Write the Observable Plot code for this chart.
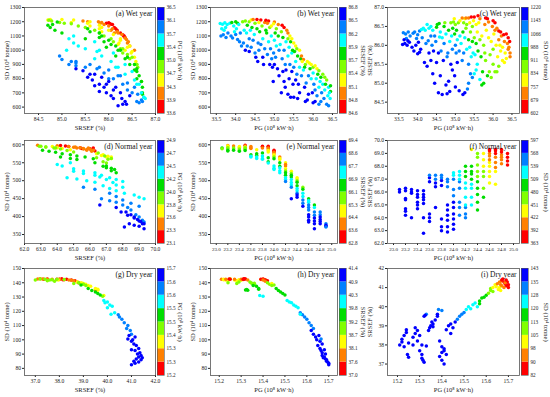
<!DOCTYPE html>
<html><head><meta charset="utf-8">
<script src="https://cdn.jsdelivr.net/npm/d3@7"></script>
<script src="https://cdn.jsdelivr.net/npm/@observablehq/plot@0.6"></script>
<style>
body{margin:0;background:#fff;}
#chart{position:relative;width:550px;height:397px;overflow:hidden;background:#fff;}
#chart svg{position:absolute;overflow:visible;}
</style></head><body><div id="chart"></div>
<script>
// ---- data: [PG (10^8 kWh), SD (10^4 tonne), SRSEF (%)] ----
const wetData = [
[33.60,1188,86.02],[33.66,1183,86.05],[33.72,1192,86.00],[33.78,1180,86.08],
[33.62,1100,86.33],[33.68,1108,86.30],[33.75,1090,86.35],[33.80,1120,86.25],[33.70,1140,86.18],
[33.64,1150,86.15],[33.74,1160,86.12],[33.85,1190,85.95],[33.88,1100,86.32],
[33.90,1195,85.85],[34.00,1200,85.78],[34.05,1190,85.82],[33.95,1170,86.00],[34.02,1150,86.08],[33.92,1085,86.35],[34.05,1075,86.38],[34.10,1060,86.42],[34.00,1110,86.28],
[33.97,1130,86.18],[34.08,1180,85.90],[34.12,1120,86.20],[34.15,1030,86.45],
[34.18,1200,85.55],[34.25,1205,85.45],[34.30,1175,85.80],[34.22,1140,86.05],[34.28,1120,86.12],[34.20,1050,86.40],[34.25,1000,86.55],[34.30,1030,86.45],
[34.35,1200,85.60],[34.35,1080,86.25],[34.38,1140,86.00],[34.35,990,86.50],
[34.40,1212,85.25],[34.45,1215,85.00],[34.50,1190,85.55],[34.42,1160,85.85],[34.48,1110,86.10],[34.45,1070,86.25],[34.40,1020,86.40],[34.50,980,86.48],[34.52,950,86.55],
[34.55,1150,85.80],[34.58,1050,86.22],[34.57,920,86.58],
[34.55,1215,84.75],[34.65,1212,84.70],[34.60,1195,85.20],[34.68,1170,85.60],[34.62,1130,85.85],[34.70,1080,86.05],[34.65,1040,86.20],[34.60,1000,86.35],[34.70,950,86.50],[34.72,900,86.60],
[34.75,1195,84.95],[34.75,1010,86.30],[34.78,1140,85.70],
[34.78,1210,84.72],[34.85,1205,84.78],[34.82,1190,85.05],[34.88,1160,85.50],[34.80,1120,85.80],[34.85,1060,86.10],[34.90,1010,86.25],[34.82,970,86.40],[34.88,900,86.60],[34.95,880,86.62],
[34.92,1170,85.35],[34.92,1100,85.90],[34.93,940,86.45],
[35.00,1198,84.90],[34.98,1185,85.20],[35.05,1150,85.55],[35.02,1120,85.80],[35.00,1070,86.00],[35.05,1030,86.15],[34.98,980,86.30],[35.03,950,86.40],[35.00,900,86.55],[34.97,780,86.70],[35.08,870,86.60],
[35.10,1180,84.80],[35.12,1000,86.25],[35.10,1100,85.85],[35.12,820,86.65],
[35.20,1175,84.70],[35.25,1160,84.75],[35.18,1130,85.60],[35.22,1090,85.80],[35.15,1040,86.05],[35.25,1000,86.20],[35.20,940,86.35],[35.28,900,86.45],[35.22,850,86.60],[35.25,780,86.70],[35.18,700,86.72],
[35.30,1060,85.90],[35.30,860,86.55],[35.28,740,86.72],
[35.32,1140,84.85],[35.35,1120,85.00],[35.40,1100,85.25],[35.35,1080,85.50],[35.42,1060,85.70],[35.38,1020,85.95],[35.45,980,86.10],[35.35,960,86.15],[35.40,900,86.35],[35.45,850,86.50],[35.38,800,86.60],[35.35,690,86.72],[35.42,670,86.75],
[35.47,1000,85.80],[35.48,760,86.65],[35.45,1080,85.15],
[35.50,1050,85.25],[35.55,1030,85.35],[35.58,1010,85.50],[35.52,990,85.75],[35.60,960,85.85],[35.55,920,86.05],[35.50,880,86.20],[35.58,830,86.35],[35.55,790,86.55],[35.62,760,86.60],[35.50,670,86.75],[35.60,660,86.78],
[35.65,1000,85.10],[35.65,880,86.15],[35.65,700,86.70],[35.68,940,85.70],
[35.70,960,84.95],[35.75,935,85.00],[35.72,920,85.30],[35.80,900,85.60],[35.78,880,85.80],[35.75,860,86.00],[35.70,820,86.25],[35.82,770,86.40],[35.78,740,86.55],[35.85,650,86.70],[35.80,640,86.72],
[35.88,820,86.20],[35.88,690,86.62],[35.85,920,85.20],
[35.90,910,85.30],[35.95,900,85.15],[36.00,880,85.50],[35.92,870,85.75],[36.00,840,85.90],[35.95,800,86.10],[36.02,760,86.30],[35.98,700,86.50],[36.05,640,86.60],[36.00,630,86.65],
[36.05,890,85.30],[36.05,720,86.40],[36.08,800,86.00],
[36.10,870,85.30],[36.15,855,85.45],[36.12,830,85.70],[36.20,810,85.85],[36.18,780,86.00],[36.15,740,86.15],[36.22,700,86.25],[36.10,680,86.45],[36.20,640,86.35],
[36.25,830,85.60],[36.25,760,85.95],[36.28,660,86.28],[36.15,620,86.38],
[36.30,810,85.55],[36.35,790,85.65],[36.32,760,85.80],[36.40,740,85.90],[36.45,710,85.80],[36.42,700,85.95],[36.38,680,86.05],[36.40,610,86.20],[36.35,620,86.30],
[36.44,660,86.10],[36.45,750,85.70],[36.30,720,86.10]
];
const normalData = [
[23.1,591,66.2],[23.1,589,66.0],
[23.2,598,64.2],[23.2,597,64.5],[23.2,595,64.7],[23.2,592,65.4],[23.2,590,65.5],[23.2,585,66.1],[23.2,583,66.3],
[23.3,597,64.0],[23.3,591,65.9],[23.3,588,66.0],[23.3,585,66.2],
[23.4,595,64.7],[23.4,593,65.0],[23.4,591,65.2],[23.4,588,65.6],[23.4,585,65.8],[23.4,582,66.1],
[23.5,599,62.8],[23.5,597,64.0],[23.5,594,65.1],[23.5,592,65.4],[23.5,590,65.6],[23.5,587,65.8],[23.5,584,66.1],
[23.6,595,63.7],[23.6,592,64.0],[23.6,590,64.3],[23.6,572,66.8],[23.6,568,67.1],[23.6,566,67.3],
[23.7,586,64.8],[23.7,575,66.4],[23.7,570,66.7],[23.7,566,67.0],[23.7,562,67.3],
[23.8,596,63.0],[23.8,594,63.3],[23.8,591,63.9],[23.8,577,66.5],[23.8,569,66.9],[23.8,562,67.3],[23.8,560,67.1],
[23.9,596,62.9],[23.9,594,63.3],[23.9,591,63.8],[23.9,588,64.2],[23.9,584,64.6],[23.9,580,65.0],[23.9,564,66.4],[23.9,553,66.8],[23.9,549,67.0],
[24.0,585,63.1],[24.0,582,63.5],[24.0,579,63.9],[24.0,575,64.3],[24.0,572,64.8],[24.0,569,65.2],[24.0,566,65.7],[24.0,561,66.2],[24.0,541,67.0],[24.0,535,67.3],[24.0,531,67.5],
[24.1,566,64.2],[24.1,562,64.8],[24.1,559,65.2],[24.1,550,66.3],[24.1,540,66.8],[24.1,536,67.0],[24.1,528,67.3],[24.1,522,67.6],
[24.2,550,64.8],[24.2,545,64.0],[24.2,541,64.3],[24.2,533,65.0],[24.2,527,65.6],[24.2,522,66.3],[24.2,515,66.7],[24.2,508,67.2],[24.2,503,67.6],[24.2,498,68.0],
[24.3,526,65.0],[24.3,520,65.6],[24.3,515,66.3],[24.3,510,66.6],[24.3,503,67.0],[24.3,495,67.4],[24.3,488,67.6],[24.3,482,68.0],[24.3,450,69.3],
[24.4,508,64.6],[24.4,505,65.2],[24.4,500,65.8],[24.4,496,66.3],[24.4,486,66.8],[24.4,478,67.2],[24.4,472,67.6],[24.4,465,68.1],[24.4,460,68.7],[24.4,454,69.0],
[24.5,482,65.6],[24.5,476,66.3],[24.5,465,67.2],[24.5,456,67.6],[24.5,446,68.0],[24.5,437,68.5],[24.5,429,69.0],
[24.6,450,66.7],[24.6,444,67.2],[24.6,440,67.6],[24.6,432,68.0],[24.6,425,68.3],[24.6,418,68.5],[24.6,405,68.8],[24.6,399,69.0],[24.6,390,69.2],[24.6,385,69.3],
[24.7,432,66.6],[24.7,425,67.6],[24.7,413,67.9],[24.7,404,68.3],[24.7,396,68.7],[24.7,388,69.0],[24.7,380,69.2],[24.7,366,69.3],
[24.8,413,68.2],[24.8,405,68.5],[24.8,399,68.7],[24.8,392,68.9],[24.8,386,69.1],[24.8,380,69.3],
[24.9,380,68.4],[24.9,376,68.7],[24.9,373,69.0],[24.9,371,68.1]
];
const dryData = [
[15.21,142.5,38.00],[15.22,142.5,38.30],[15.22,142.2,38.15],[15.23,142.0,38.50],[15.24,141.5,38.65],[15.24,140.0,38.80],[15.25,142.8,38.10],[15.23,142.4,37.90],[15.245,142.6,37.50],[15.25,142.5,37.35],
[15.27,142.0,38.40],[15.28,141.5,38.60],[15.28,139.5,38.90],[15.29,142.2,38.20],[15.30,141.8,38.50],[15.30,142.4,37.70],[15.31,142.3,38.00],[15.27,142.5,38.00],[15.29,140.5,38.75],
[15.31,142.6,37.30],[15.32,142.7,37.10],[15.31,142.5,37.50],[15.315,142.8,37.20],
[15.32,135.0,39.50],[15.33,134.8,39.60],[15.325,135.2,39.55],[15.33,142.0,37.95],
[15.34,140.5,38.75],[15.345,140.0,38.90],[15.35,139.5,39.00],[15.36,139.0,39.10],[15.36,139.6,38.95],[15.37,137.5,39.30],[15.38,136.0,39.50],[15.38,135.5,39.60],[15.355,138.0,39.20],
[15.385,131.0,39.85],[15.40,130.5,39.80],
[15.39,142.3,38.20],[15.40,142.4,37.90],[15.41,142.2,37.70],[15.39,142.5,37.40],[15.40,142.6,37.20],[15.41,142.0,37.00],[15.42,141.5,37.50],[15.40,142.0,37.60],[15.41,141.0,37.80],
[15.42,140.0,38.80],[15.43,139.0,39.00],[15.45,138.5,38.90],[15.44,139.5,38.60],[15.44,138.0,39.10],
[15.46,136.0,39.20],[15.47,134.5,39.35],[15.48,133.5,39.50],[15.49,132.5,39.60],[15.50,131.5,39.70],
[15.51,127.5,39.85],[15.52,126.5,40.00],[15.53,126.0,39.90],[15.54,124.5,40.10],[15.55,123.5,40.20],[15.56,122.5,40.00],
[15.57,119.0,40.30],[15.58,117.5,40.45],[15.59,116.0,40.50],[15.60,114.5,40.60],[15.57,118.0,40.15],
[15.61,112.0,40.70],[15.62,110.0,40.85],[15.63,108.0,40.80],[15.62,106.5,40.95],
[15.63,104.0,41.00],[15.64,102.0,41.15],[15.645,100.0,41.05],
[15.65,96.0,41.20],[15.66,94.0,41.30],[15.665,92.5,41.15],[15.67,91.0,41.35],
[15.67,89.0,41.40],[15.68,88.0,41.30],[15.685,86.5,41.20],[15.69,85.0,41.10],[15.70,83.5,41.15],[15.695,84.5,41.30],[15.675,87.5,41.45],[15.70,82.5,41.00],
[15.655,103.0,40.90],[15.66,99.0,41.00],[15.67,97.0,41.10],[15.68,93.0,41.00],[15.685,90.0,41.25],[15.69,86.0,41.40],[15.665,100.5,40.85]
];

// ---- tick values ----
const wetSRSEFTicks = [84.5,85.0,85.5,86.0,86.5,87.0];
const wetPGTicks = [33.5,34.0,34.5,35.0,35.5,36.0,36.5];
const wetSDTicks = [600,700,800,900,1000,1100,1200,1300];
const normSRSEFTicks = [62,63,64,65,66,67,68,69,70];
const normPGTicks = [23.0,23.2,23.4,23.6,23.8,24.0,24.2,24.4,24.6,24.8,25.0];
const normSDTicks = [350,400,450,500,550,600];
const drySRSEFTicks = [37,38,39,40,41,42];
const dryPGTicks = [15.2,15.3,15.4,15.5,15.6,15.7];
const drySDTicks = [80,90,100,110,120,130,140,150];

// ---- colour-bar labels (bottom to top) ----
const legendA = ["33.6","33.9","34.3","34.7","35.0","35.4","35.7","36.1","36.5"];
const legendB = ["84.6","84.8","85.1","85.4","85.7","85.9","86.2","86.5","86.8"];
const legendC = ["602","679","757","834","911","988","1066","1143","1220"];
const legendD = ["23.1","23.3","23.6","23.8","24.0","24.2","24.5","24.7","24.9"];
const legendE = ["62.8","63.6","64.4","65.3","66.1","66.9","67.7","68.6","69.4"];
const legendF = ["363","392","422","451","480","509","539","568","597"];
const legendG = ["15.2","15.3","15.3","15.4","15.5","15.5","15.6","15.6","15.7"];
const breaksG = [15.20,15.26,15.33,15.39,15.45,15.51,15.58,15.64,15.70];
const legendH = ["37.0","37.6","38.1","38.7","39.2","39.8","40.3","40.9","41.4"];
const legendI = ["82","90","98","105","113","120","128","135","143"];

const palette = ["#ff0000","#ff8000","#ffff00","#80ff00","#00dd00","#00ffff","#0080ff","#0000ff"];
const LBL = ["PG (10⁸ kW·h)", "SD (10⁴ tonne)", "SRSEF (%)"];

const panels = [
 {row:0,col:0,title:"(a) Wet year",data:wetData,x:2,y:1,c:0,xDomain:[84.2,87.0],yDomain:[555,1300],xTicks:wetSRSEFTicks,yTicks:wetSDTicks,xFmt:".1f",yFmt:"d",legend:legendA},
 {row:0,col:1,title:"(b) Wet year",data:wetData,x:0,y:1,c:2,xDomain:[33.35,36.63],yDomain:[555,1300],xTicks:wetPGTicks,yTicks:wetSDTicks,xFmt:".1f",yFmt:"d",legend:legendB},
 {row:0,col:2,title:"(c) Wet year",data:wetData,x:0,y:2,c:1,xDomain:[33.2,36.7],yDomain:[84.2,87.0],xTicks:wetPGTicks,yTicks:wetSRSEFTicks,xFmt:".1f",yFmt:".1f",legend:legendC},
 {row:1,col:0,title:"(d) Normal year",data:normalData,x:2,y:1,c:0,xDomain:[62,70],yDomain:[325,612],xTicks:normSRSEFTicks,yTicks:normSDTicks,xFmt:".1f",yFmt:"d",legend:legendD},
 {row:1,col:1,title:"(e) Normal year",data:normalData,x:0,y:1,c:2,xDomain:[22.9,25.1],yDomain:[325,612],xTicks:normPGTicks,yTicks:normSDTicks,xFmt:".1f",yFmt:"d",legend:legendE,xFont:5},
 {row:1,col:2,title:"(f) Normal year",data:normalData,x:0,y:2,c:1,xDomain:[22.9,25.1],yDomain:[62,70],xTicks:normPGTicks,yTicks:normSRSEFTicks,xFmt:".1f",yFmt:".1f",legend:legendF,xFont:5},
 {row:2,col:0,title:"(g) Dry year",data:dryData,x:2,y:1,c:0,xDomain:[36.55,42.0],yDomain:[75,150],xTicks:drySRSEFTicks,yTicks:drySDTicks,xFmt:".1f",yFmt:"d",legend:legendG,breaks:breaksG},
 {row:2,col:1,title:"(h) Dry year",data:dryData,x:0,y:1,c:2,xDomain:[15.16,15.74],yDomain:[75,150],xTicks:dryPGTicks,yTicks:drySDTicks,xFmt:".1f",yFmt:"d",legend:legendH},
 {row:2,col:2,title:"(i) Dry year",data:dryData,x:0,y:2,c:1,xDomain:[15.155,15.75],yDomain:[36.4,42],xTicks:dryPGTicks,yTicks:drySRSEFTicks,xFmt:".1f",yFmt:"d",legend:legendI}
];

// ---- layout ----
const colL = [24,210,387], colR = [155,337,519];
const rowTop = [0,131,262], rowH = [131,131,135];
const frameT = [7,140,268], frameB = [113,243,375];
const cbTitleDx = [16,17,18];
const FONT = "'Liberation Serif','Times New Roman',serif";
const chart = document.getElementById("chart");

for (const p of panels) {
  const breaks = p.breaks || p.legend.map(Number);
  const color = {type:"threshold", domain: breaks.slice(1,-1), range: palette};
  const mt = frameT[p.row]-rowTop[p.row];
  const mb = rowTop[p.row]+rowH[p.row]-frameB[p.row];
  const left = colL[p.col]-24;
  const W = colR[p.col]-colL[p.col]+26;
  const main = Plot.plot({
    width: W, height: rowH[p.row],
    marginLeft: 24, marginRight: 2, marginTop: mt, marginBottom: mb,
    style: {fontFamily: FONT, fontSize: "5.6px", color: "#222", background: "none", overflow: "visible"},
    x: {domain: p.xDomain},
    y: {domain: p.yDomain},
    color,
    marks: [
      Plot.dot(p.data, {x: d => d[p.x], y: d => d[p.y], fill: d => d[p.c], r: 1.75}),
      Plot.axisX({ticks: p.xTicks, tickFormat: p.xFmt, tickSize: 2, tickPadding: 1.5, label: null, fontSize: p.xFont || 5.6}),
      Plot.axisY({ticks: p.yTicks, tickFormat: p.yFmt, tickSize: 2, tickPadding: 1.5, label: null}),
      Plot.frame({stroke: "#555", strokeWidth: 0.8}),
      Plot.text([p.title], {text: d => d, frameAnchor: "top-right", dx: -3, dy: 3.5, fontSize: 7.5, fill: "#111"}),
      Plot.text([LBL[p.x]], {text: d => d, frameAnchor: "bottom", dy: 14.5, textAnchor: "middle", lineAnchor: "middle", fontSize: 6.5, fill: "#222"}),
      Plot.text([LBL[p.y]], {text: d => d, frameAnchor: "left", dx: -18, rotate: -90, textAnchor: "middle", lineAnchor: "middle", fontSize: 6.5, fill: "#222"})
    ]
  });
  main.style.left = left + "px";
  main.style.top = rowTop[p.row] + "px";
  chart.appendChild(main);

  const cb = Plot.plot({
    width: 30, height: rowH[p.row],
    marginLeft: 0, marginRight: 23, marginTop: mt, marginBottom: mb,
    style: {fontFamily: FONT, fontSize: "5.2px", color: "#222", background: "none", overflow: "visible"},
    x: {domain: [0,1], axis: null},
    y: {domain: [0,8]},
    color,
    marks: [
      Plot.rect(d3.range(8), {x1: () => 0, x2: () => 1, y1: i => i, y2: i => i + 1, fill: i => (breaks[i] + breaks[i+1]) / 2}),
      Plot.frame({stroke: "#555", strokeWidth: 0.6}),
      Plot.axisY({anchor: "right", ticks: d3.range(9), tickFormat: i => p.legend[i], tickSize: 0, tickPadding: 2, label: null}),
      Plot.text([LBL[p.c]], {text: d => d, frameAnchor: "right", dx: cbTitleDx[p.col], rotate: 90, textAnchor: "middle", lineAnchor: "middle", fontSize: 6.5, fill: "#222"})
    ]
  });
  cb.style.left = (colR[p.col] + 2) + "px";
  cb.style.top = rowTop[p.row] + "px";
  chart.appendChild(cb);
}
</script></body></html>
